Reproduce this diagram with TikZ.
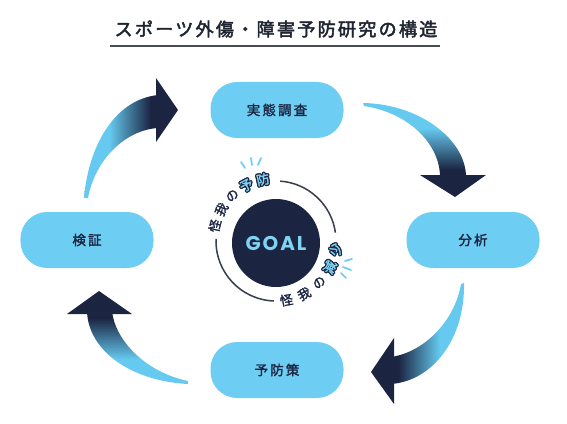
\documentclass[tikz,border=0pt]{standalone}
\usepackage{fontspec}
\newfontfamily\jptitle{Noto Sans CJK JP}[LetterSpace=12, FakeBold=2.5]
\newfontfamily\jpnode{Noto Sans CJK JP}[LetterSpace=16, FakeBold=1.8]
\newfontfamily\jpring{Noto Sans CJK JP}[FakeBold=2]
\newfontfamily\goalfont{Poppins}[LetterSpace=10]
\definecolor{navy}{HTML}{1B2542}
\definecolor{sky}{HTML}{6ECDF2}
\definecolor{skyarrow}{HTML}{66C9EF}
\definecolor{goaltext}{HTML}{7ED4F2}
\definecolor{ringline}{HTML}{3A3F4E}
\definecolor{titlecol}{HTML}{1F2430}
\definecolor{rulecol}{HTML}{4A4C55}
\pgfdeclarehorizontalshading{arrowgrad}{100bp}{color(0bp)=(skyarrow); color(42bp)=(skyarrow); color(70bp)=(navy); color(100bp)=(navy)}
\newcommand\outlch[4]{% name, char, position, rotation
  \foreach \dx/\dy in {1.1/0,-1.1/0,0/1.1,0/-1.1,0.8/0.8,-0.8/0.8,0.8/-0.8,-0.8/-0.8}{
    \node[ringtxt, text=navy, rotate=#4, xshift=\dx pt, yshift=\dy pt] (#1s) at (#3) {#2};}
  \node[ringtxt, text=goaltext, rotate=#4] (#1) at (#3) {#2};}
\begin{document}
\begin{tikzpicture}[x=0.03cm, y=-0.03cm,
  pill/.style={draw=none, fill=sky, rounded corners=0.8cm, minimum width=3.99cm,
    minimum height=1.68cm, font=\jpnode\fontsize{11.5}{12}\selectfont, text=navy},
  ringtxt/.style={font=\jpring\fontsize{11}{12}\selectfont, text=navy, inner sep=0pt},
  tick/.style={draw=sky, line width=1.5pt, line cap=round},
  arrowbody/.style={shading=arrowgrad},
  arrowhead/.style={fill=navy}]
\useasboundingbox (0,0) rectangle (567,423);

% title
\node[font=\jptitle\fontsize{15.5}{16}\selectfont, text=titlecol] (title) at (276,29) {スポーツ外傷・障害予防研究の構造};
\coordinate (ruleL) at (110,46);
\coordinate (ruleR) at (440,46);
\draw[rulecol, line width=1.5pt] (ruleL) -- (ruleR);

% pills
\node[pill] (survey) at (277,110) {実態調査};
\node[pill] (analysis) at (473,240) {分析};
\node[pill] (measure) at (277,370) {予防策};
\node[pill] (verify) at (87,240) {検証};

% goal
\node[circle, fill=navy, minimum size=2.64cm, inner sep=0pt, text=goaltext,
  font=\goalfont\bfseries\fontsize{17}{18}\selectfont] (goal) at (276,243) {GOAL};

% ring
\begin{scope}[shift={(276,241)}, x=0.03cm, y=0.03cm]
  \draw[ringline, line width=1.3pt] (86:60) arc[start angle=86, end angle=8, radius=60];
  \draw[ringline, line width=1.3pt] (178:60) arc[start angle=178, end angle=268, radius=60];
  \foreach \ch/\a [count=\i] in {怪/166, 我/150, の/134}
    \node[ringtxt, rotate=\a-90] (up\i) at (\a:63) {\ch};
  \outlch{up4}{予}{118:63}{28}
  \outlch{up5}{防}{102:63}{12}
  \foreach \ch/\a [count=\i] in {怪/-80, 我/-62, の/-44}
    \node[ringtxt, rotate=\a+90] (lo\i) at (\a:60) {\ch};
  \outlch{lo4}{減}{-26:60}{64}
  \outlch{lo5}{少}{-8:60}{82}
\end{scope}

% ticks
\draw[tick] (241,162) -- (245,168);
\draw[tick] (251,158) -- (252,165);
\draw[tick] (261,158) -- (258,165);
\draw[tick] (345,261) -- (352,259);
\draw[tick] (343,267) -- (351,270);
\draw[tick] (341,273) -- (346,278);

% arrows
\shade[arrowbody, shading angle=0] (84,198) .. controls (88,150) and (112,100) .. (158,95)
  -- (158,128) .. controls (125,130) and (95,160) .. (88,198) -- cycle;
\fill[arrowhead] (156,78) -- (178,110) -- (156,142) -- cycle;

\shade[arrowbody, shading angle=-90] (363,103) .. controls (420,104) and (466,140) .. (466,177)
  -- (440,177) .. controls (440,145) and (410,113) .. (364,106) -- cycle;
\fill[arrowhead] (420,175) -- (486,175) -- (455,197) -- cycle;

\shade[arrowbody, shading angle=180] (464,283) .. controls (465,340) and (432,381) .. (391,384)
  -- (391,357) .. controls (425,352) and (455,320) .. (461,284) -- cycle;
\fill[arrowhead] (394,338) -- (371,372) -- (394,404) -- cycle;

\shade[arrowbody, shading angle=90] (188,384) .. controls (130,381) and (88,350) .. (87,311)
  -- (112,311) .. controls (115,340) and (145,372) .. (188,381) -- cycle;
\fill[arrowhead] (67,314) -- (99,291) -- (132,314) -- cycle;
\end{tikzpicture}
\end{document}
